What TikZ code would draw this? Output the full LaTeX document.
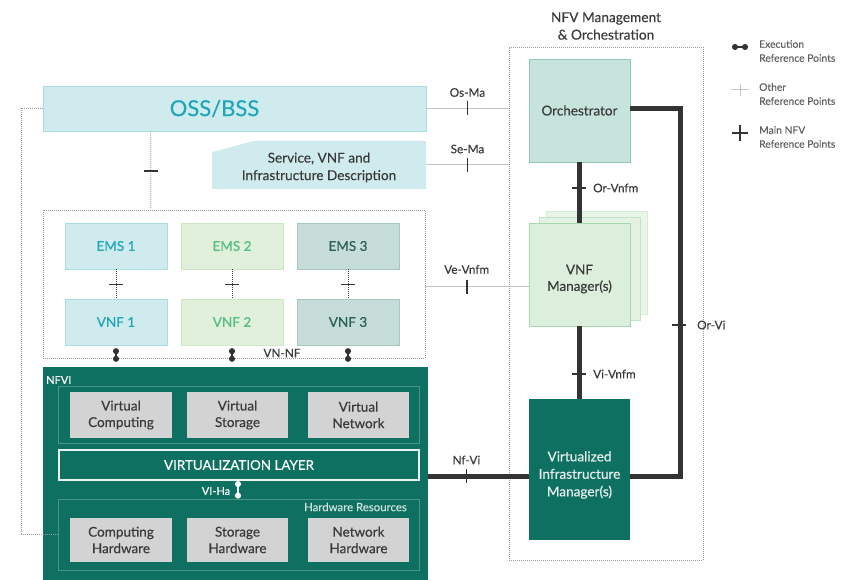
\documentclass[tikz,border=0pt]{standalone}
\usepackage{fontspec}
\setmainfont{Lato}[FakeBold=0.35]
\usetikzlibrary{arrows.meta,calc}
\definecolor{teal}{HTML}{0E7060}
\definecolor{cyfill}{HTML}{D0EBEE}
\definecolor{cydraw}{HTML}{A9DCE3}
\definecolor{cytext}{HTML}{1FA7B7}
\definecolor{grfill}{HTML}{E0F0DA}
\definecolor{grdraw}{HTML}{CFE6C6}
\definecolor{grtext}{HTML}{55BD85}
\definecolor{dtfill}{HTML}{C6DCD8}
\definecolor{dtdraw}{HTML}{A6C6C0}
\definecolor{dttext}{HTML}{2A5F5A}
\definecolor{orfill}{HTML}{C6E4DC}
\definecolor{ordraw}{HTML}{8FCABB}
\definecolor{vmfill}{HTML}{DCEFDC}
\definecolor{vmdraw}{HTML}{A6D9AE}
\definecolor{gbox}{HTML}{D3D3D3}
\definecolor{ink}{HTML}{3A3A3A}
\definecolor{thickc}{HTML}{333333}
\definecolor{dotc}{HTML}{9A9A9A}
\definecolor{thinc}{HTML}{C4C4C4}
\tikzset{
  box/.style={rectangle,inner sep=0pt,align=center,font=\fontsize{13.5}{16.5}\selectfont},
  graybox/.style={box,fill=gbox,text=ink,minimum width=102pt,minimum height=46pt},
  dotbox/.style={rectangle,inner sep=0pt,draw=dotc,dash pattern=on 1pt off 1pt,line width=0.6pt},
  lab/.style={font=\fontsize{11.8}{13}\selectfont,text=ink,inner sep=1pt},
  leg/.style={font=\fontsize{10.3}{14}\selectfont,text=ink!80,align=left,anchor=north west,inner sep=0pt},
  thinline/.style={draw=thinc,line width=1pt},
  mainline/.style={draw=thickc,line width=5pt},
  dotline/.style={draw=dotc,dash pattern=on 1pt off 1pt,line width=0.6pt},
  tickv/.style={draw=thickc,line width=1.6pt},
  tickh/.style={draw=thickc,line width=1.3pt},
  execl/.style={draw=thickc,line width=1.6pt,{Circle[length=6pt]}-{Circle[length=6pt]}},
}
\begin{document}
\begin{tikzpicture}[x=1pt,y=-1pt]
\useasboundingbox (0,0) rectangle (856,580);
% ---- MANO frame
\node[dotbox,minimum width=194pt,minimum height=513pt] (mano) at (606,303.5) {};
\node[font=\fontsize{13.7}{17.5}\selectfont,text=ink,align=center] (manot) at (606,26) {NFV Management\\ \& Orchestration};
% ---- OSS/BSS
\node[box,fill=cyfill,draw=cydraw,minimum width=383pt,minimum height=45pt] (oss) at (234.5,108.5) {};
\node[text=cytext,font=\fontsize{22}{26}\selectfont,inner sep=0pt] (osst) at (214.5,108.5) {OSS/BSS};
% ---- description
\fill[cyfill] (212,189) -- (212,152) -- (254,141) -- (426,141) -- (426,189) -- cycle;
\node[box,minimum width=214pt,minimum height=48pt] (desc) at (319,165) {};
\node[box,text=ink,font=\fontsize{13.6}{17.5}\selectfont] (desct) at (319,167.5) {Service, VNF and\\Infrastructure Description};
% ---- orchestrator
\node[box,fill=orfill,draw=ordraw,minimum width=101pt,minimum height=103pt,text=ink] (orch) at (579.5,110.5) {Orchestrator};
% ---- VNF manager
\node[box,fill=vmfill!60,draw=vmdraw!50,minimum width=101pt,minimum height=103pt] (vnfmb2) at (596.5,262.5) {};
\node[box,fill=vmfill!80,draw=vmdraw!70,minimum width=101pt,minimum height=103pt] (vnfmb1) at (589.5,268.5) {};
\node[box,fill=vmfill,draw=vmdraw,minimum width=101pt,minimum height=103pt] (vnfm) at (579.5,274.5) {};
\node[box,text=ink] (vnfmt) at (579.5,279) {VNF\\Manager(s)};
% ---- VIM
\node[box,fill=teal,minimum width=101pt,minimum height=141pt] (vim) at (579.5,469.5) {};
\node[box,text=white!90!teal,font=\fontsize{13.6}{17.5}\selectfont] (vimt) at (579.5,475) {Virtualized\\Infrastructure\\Manager(s)};
% ---- VNF frame
\node[dotbox,minimum width=382pt,minimum height=148pt] (vnfbox) at (234,284) {};
\node[box,fill=cyfill,draw=cydraw,minimum width=102pt,minimum height=46pt,text=cytext] (ems1) at (116,246) {EMS 1};
\node[box,fill=grfill,draw=grdraw,minimum width=102pt,minimum height=46pt,text=grtext] (ems2) at (232,246) {EMS 2};
\node[box,fill=dtfill,draw=dtdraw,minimum width=102pt,minimum height=46pt,text=dttext] (ems3) at (348,246) {EMS 3};
\node[box,fill=cyfill,draw=cydraw,minimum width=102pt,minimum height=46pt,text=cytext] (vnf1) at (116,322) {VNF 1};
\node[box,fill=grfill,draw=grdraw,minimum width=102pt,minimum height=46pt,text=grtext] (vnf2) at (232,322) {VNF 2};
\node[box,fill=dtfill,draw=dtdraw,minimum width=102pt,minimum height=46pt,text=dttext] (vnf3) at (348,322) {VNF 3};
% ---- NFVI
\node[rectangle,fill=teal,inner sep=0pt,minimum width=385pt,minimum height=214pt] (nfvi) at (235.5,474) {};
\node[anchor=west,text=white,font=\fontsize{11}{12}\selectfont,inner sep=0pt] (nfvit) at (46,380) {NFVI};
\node[rectangle,draw=white!25!teal,line width=0.8pt,inner sep=0pt,minimum width=361pt,minimum height=57pt] (virt) at (238.5,414.5) {};
\node[graybox] (vc) at (121,415) {Virtual\\Computing};
\node[graybox,minimum width=101pt] (vs) at (237.5,415) {Virtual\\Storage};
\node[graybox,minimum width=101pt] (vn) at (358.5,415) {Virtual\\Network};
\node[box,draw=white!92!teal,line width=2pt,minimum width=360pt,minimum height=30pt,text=white,font=\fontsize{13.4}{15}\selectfont] (vl) at (239,465) {VIRTUALIZATION LAYER};
\node[rectangle,draw=white!25!teal,line width=0.8pt,inner sep=0pt,minimum width=361pt,minimum height=71pt] (hw) at (238.5,534.5) {};
\node[anchor=east,text=white!80!teal,font=\fontsize{11.4}{12}\selectfont,inner sep=0pt] (hwt) at (407,507) {Hardware Resources};
\node[graybox,minimum height=44pt] (ch) at (121,540) {Computing\\Hardware};
\node[graybox,minimum width=101pt,minimum height=44pt] (sh) at (237.5,540) {Storage\\Hardware};
\node[graybox,minimum width=101pt,minimum height=44pt] (nh) at (358.5,540) {Network\\Hardware};
% ---- dotted OSS links
\draw[dotline] (oss.west) -- ++(-22,0) |- (hw.west);
\draw[dotline] ([xshift=108pt]oss.south west) -- ([xshift=108pt]vnfbox.north west);
\draw[tickh,line width=2pt] ([xshift=101pt,yshift=-40pt]oss.south west) -- ++(14,0);
% ---- thin reference points
\draw[thinline] (oss.east) -- (oss.east -| mano.west) coordinate[pos=0.5] (osma);
\draw[tickv] ($(osma)+(0,-7)$) -- ($(osma)+(0,7)$);
\node[lab] at ($(osma)+(0,-16)$) {Os-Ma};
\draw[thinline] (desc.east) -- (desc.east -| mano.west) coordinate[pos=0.5] (sema);
\draw[tickv] ($(sema)+(0,-7)$) -- ($(sema)+(0,7)$);
\node[lab] at ($(sema)+(0,-16)$) {Se-Ma};
\draw[thinline] ([yshift=-2.5pt]vnfbox.east) -- ([yshift=-2.5pt]vnfbox.east -| vnfm.west) coordinate[pos=0.4] (vevnfm);
\draw[tickv] ($(vevnfm)+(0,-7)$) -- ($(vevnfm)+(0,7)$);
\node[lab] at ($(vevnfm)+(0,-17)$) {Ve-Vnfm};
% ---- EMS-VNF
\foreach \i in {1,2,3}{
  \draw[dotline,draw=ink] (ems\i.south) -- (vnf\i.north) coordinate[pos=0.5] (ev\i);
  \draw[draw=ink,line width=0.9pt] ($(ev\i)+(-7,0)$) -- ($(ev\i)+(7,0)$);
  \draw[execl] ([yshift=-3pt]vnf\i.south) -- ([yshift=5pt]vnf\i.south |- nfvi.north);
}
\node[lab] (vnnf) at (282,353) {VN-NF};
% ---- VI-Ha
\draw[draw=white,line width=1.6pt,{Circle[length=6pt]}-{Circle[length=6pt]}] ([xshift=-1pt]vl.south) -- ([xshift=-1pt]vl.south |- hw.north);
\node[lab,text=white,font=\fontsize{11}{12}\selectfont] at (216,491) {VI-Ha};
% ---- main reference points
\coordinate (orvi) at ([yshift=-6.5pt]vim.east);
\draw[mainline] ([yshift=1.5pt]orch.east) -- ++(50,0) |- (orvi);
\draw[tickh] (672,325) -- (686,325);
\node[lab,anchor=west] at (696,325) {Or-Vi};
\draw[mainline] (orch.south) -- (vnfm.south |- vnfmb2.north) -- (vnfm.north);
\draw[tickh] (572,188) -- (586,188);
\node[lab,anchor=west] at (592,188) {Or-Vnfm};
\draw[mainline] (vnfm.south) -- (vim.north);
\draw[tickh] (572,374) -- (586,374);
\node[lab,anchor=west] at (592,374) {Vi-Vnfm};
\draw[mainline] (orvi -| nfvi.east) -- (orvi -| vim.west) coordinate[pos=0.38] (nfvi1);
\draw[tickh] ($(nfvi1)+(0,-7)$) -- ($(nfvi1)+(0,7)$);
\node[lab] at ($(nfvi1)+(0,-16)$) {Nf-Vi};
% ---- legend
\draw[execl,line width=1.5pt] (732,47) -- (748,47);
\node[leg] at (759,40) {Execution\\Reference Points};
\draw[draw=thinc,line width=1pt] (731,90) -- (749,90);
\draw[draw=thinc,line width=1pt] (740,84) -- (740,96);
\node[leg] at (759,83) {Other\\Reference Points};
\draw[draw=thickc,line width=2pt] (732,133) -- (748,133);
\draw[draw=thickc,line width=2pt] (740,125) -- (740,141);
\node[leg] at (759,126) {Main NFV\\Reference Points};
\end{tikzpicture}
\end{document}
